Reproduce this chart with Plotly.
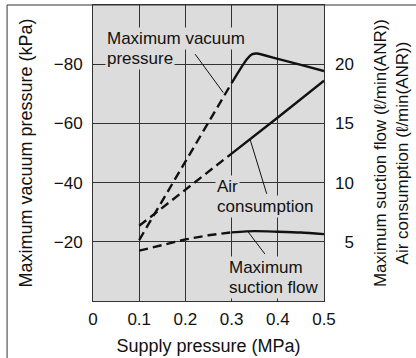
import plotly.graph_objects as go

# ---- data ----
supply_vac = [0.1, 0.2, 0.3, 0.32, 0.333, 0.345, 0.355, 0.4, 0.45, 0.5]
max_vacuum = [-20.6, -47.2, -73.6, -78.7, -81.7, -83.4, -83.6, -81.8, -79.8, -77.7]

supply_air = [0.1, 0.2, 0.3, 0.4, 0.5]
air_consumption = [6.35, 9.4, 12.45, 15.5, 18.6]

supply_suc = [0.1, 0.2, 0.25, 0.3, 0.35, 0.4, 0.45, 0.5]
suction_flow = [4.25, 5.2, 5.55, 5.8, 5.9, 5.85, 5.78, 5.65]

dash_limit = 0.3  # below this supply pressure curves are dashed

x_ticks = [0, 0.1, 0.2, 0.3, 0.4, 0.5]
x_ticktext = ["0", "0.1", "0.2", "0.3", "0.4", "0.5"]
y1_ticks = [-80, -60, -40, -20]
y1_ticktext = ["\u221280", "\u221260", "\u221240", "\u221220"]
y2_ticks = [5, 10, 15, 20]
y2_ticktext = ["\u00a0\u00a05", "10", "15", "20"]

# leader lines: (x0, y0, x1, y1) on left axis scale
leaders = [
    (0.221, -83.4, 0.282, -70.4),
    (0.340, -54.6, 0.376, -36.2),
    (0.336, -23.3, 0.372, -15.9),
]

labels = [
    ("Maximum vacuum", 0.026, -88.6),
    ("pressure", 0.026, -81.9),
    ("Air", 0.264, -38.6),
    ("consumption", 0.264, -32.0),
    ("Maximum", 0.289, -11.3),
    ("suction flow", 0.289, -4.5),
]

FONT = "Liberation Sans, Arial, Helvetica, sans-serif"
BG = "#dcdcdc"
INK = "#111111"
GRID = "#333333"


def split(xs, ys):
    dx, dy, sx, sy = [], [], [], []
    for x, y in zip(xs, ys):
        if x <= dash_limit:
            dx.append(x); dy.append(y)
        if x >= dash_limit:
            sx.append(x); sy.append(y)
    return dx, dy, sx, sy


fig = go.Figure()
for xs, ys, axis in [(supply_vac, max_vacuum, "y"),
                     (supply_air, air_consumption, "y2"),
                     (supply_suc, suction_flow, "y2")]:
    dx, dy, sx, sy = split(xs, ys)
    fig.add_trace(go.Scatter(x=dx, y=dy, yaxis=axis, mode="lines",
                             line=dict(color=INK, width=2.4, dash="9px,5px"),
                             showlegend=False, hoverinfo="skip"))
    fig.add_trace(go.Scatter(x=sx, y=sy, yaxis=axis, mode="lines",
                             line=dict(color=INK, width=2.4, shape="spline", smoothing=0.6),
                             showlegend=False, hoverinfo="skip"))

shapes = []
for x0, y0, x1, y1 in leaders:
    shapes.append(dict(type="line", xref="x", yref="y", x0=x0, y0=y0, x1=x1, y1=y1,
                       line=dict(color=INK, width=1), layer="above"))
# outer frame
shapes.append(dict(type="line", xref="paper", yref="paper", x0=-0.372, y0=1, x1=1.5, y1=1,
                   line=dict(color="#333333", width=1)))
shapes.append(dict(type="line", xref="paper", yref="paper", x0=-0.372, y0=1, x1=-0.372, y1=-0.3,
                   line=dict(color="#333333", width=1)))

annotations = []
for text, x, y in labels:
    annotations.append(dict(text=text, x=x, y=y, xref="x", yref="y", xanchor="left",
                            yanchor="middle", showarrow=False, bgcolor=BG, borderpad=1,
                            font=dict(size=17, color=INK, family=FONT)))

fig.update_layout(
    width=416, height=358,
    margin=dict(l=93, r=92, t=5, b=57),
    paper_bgcolor="white", plot_bgcolor=BG,
    font=dict(family=FONT, size=17, color=INK),
    shapes=shapes, annotations=annotations,
    xaxis=dict(range=[0, 0.5], tickvals=x_ticks, ticktext=x_ticktext,
               showgrid=True, gridcolor=GRID, gridwidth=1, zeroline=False,
               showline=True, linecolor=GRID, linewidth=1, mirror=True,
               ticks="", ticklabelstandoff=3,
               title=dict(text="Supply pressure (MPa)", font=dict(size=18), standoff=10)),
    yaxis=dict(range=[0, -100], tickvals=y1_ticks, ticktext=y1_ticktext,
               showgrid=True, gridcolor=GRID, gridwidth=1, zeroline=False,
               showline=True, linecolor=GRID, linewidth=1, mirror=True,
               ticks="", ticklabelstandoff=6,
               title=dict(text="Maximum vacuum pressure (kPa)", font=dict(size=18), standoff=16)),
    yaxis2=dict(range=[0, 25], tickvals=y2_ticks, ticktext=y2_ticktext, overlaying="y",
                side="right", showgrid=False, zeroline=False, ticks="", ticklabelstandoff=10,
                title=dict(text="Maximum suction flow (\u2113/min(ANR))<br>Air consumption (\u2113/min(ANR))",
                           font=dict(size=17), standoff=21)),
)

fig.write_html("out.html")
